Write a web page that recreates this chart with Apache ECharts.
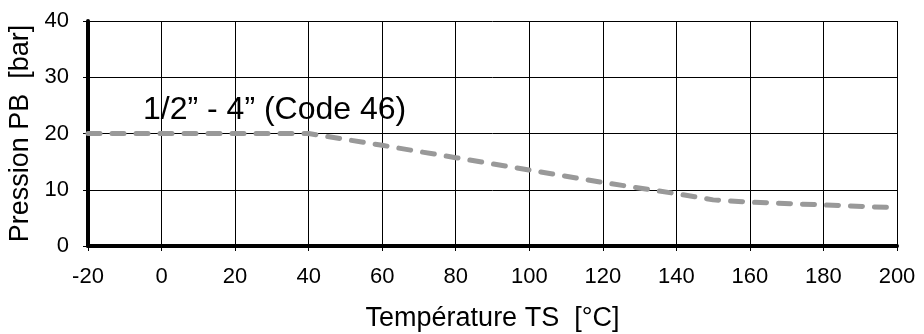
<!DOCTYPE html>
<html><head><meta charset="utf-8">
<script src="https://cdn.jsdelivr.net/npm/echarts@6/dist/echarts.min.js"></script>
<style>html,body{margin:0;padding:0;background:#fff}#c{width:924px;height:334px}</style>
</head><body><div id="c"></div>
<script>
const temps = [-20, 40, 60, 80, 100, 120, 140, 150, 160, 180, 200];
const pressures = [20, 20, 17.9, 15.7, 13.5, 11.3, 9.3, 8.2, 7.8, 7.3, 6.8];
const seriesLabel = '1/2” - 4” (Code 46)';
const xName = 'Température TS  [°C]';
const yName = 'Pression PB  [bar]';
const F = 'Liberation Sans, Arial, Helvetica, sans-serif';
const chart = echarts.init(document.getElementById('c'));
chart.setOption({
  animation: false,
  grid: {left: 88, right: 27, top: 21, bottom: 88, containLabel: false, outerBoundsMode: 'none'},
  xAxis: {
    type: 'value', min: -20, max: 200, interval: 20,
    name: xName, nameLocation: 'middle', nameGap: 59,
    nameTextStyle: {fontFamily: F, fontSize: 27, color: '#000'},
    axisLine: {onZero: false, lineStyle: {color: '#000', width: 4}},
    axisTick: {show: true, length: 5, lineStyle: {color: '#000', width: 1}},
    axisLabel: {fontFamily: F, fontSize: 22, color: '#000', margin: 20},
    splitLine: {show: true, lineStyle: {color: '#000', width: 1}}
  },
  yAxis: {
    type: 'value', min: 0, max: 40, interval: 10,
    name: yName, nameLocation: 'middle', nameGap: 53,
    nameTextStyle: {fontFamily: F, fontSize: 27, color: '#000'},
    axisLine: {onZero: false, lineStyle: {color: '#000', width: 4}},
    axisTick: {show: true, length: 5, lineStyle: {color: '#000', width: 1}},
    axisLabel: {fontFamily: F, fontSize: 22, color: '#000', margin: 19},
    splitLine: {show: true, lineStyle: {color: '#000', width: 1}}
  },
  series: [{
    type: 'line',
    data: temps.map((t, i) => [t, pressures[i]]),
    symbol: 'none',
    lineStyle: {color: '#999999', width: 5, type: [12, 12], cap: 'round'},
    markPoint: {
      symbol: 'rect',
      symbolSize: 1,
      itemStyle: {color: 'rgba(0,0,0,0)'},
      data: [{coord: [-20, 20]}],
      label: {show: true, formatter: seriesLabel, position: 'inside', offset: [55, -23],
        fontFamily: F, fontSize: 32, color: '#000', align: 'left', verticalAlign: 'middle'}
    }
  }]
});
</script></body></html>
